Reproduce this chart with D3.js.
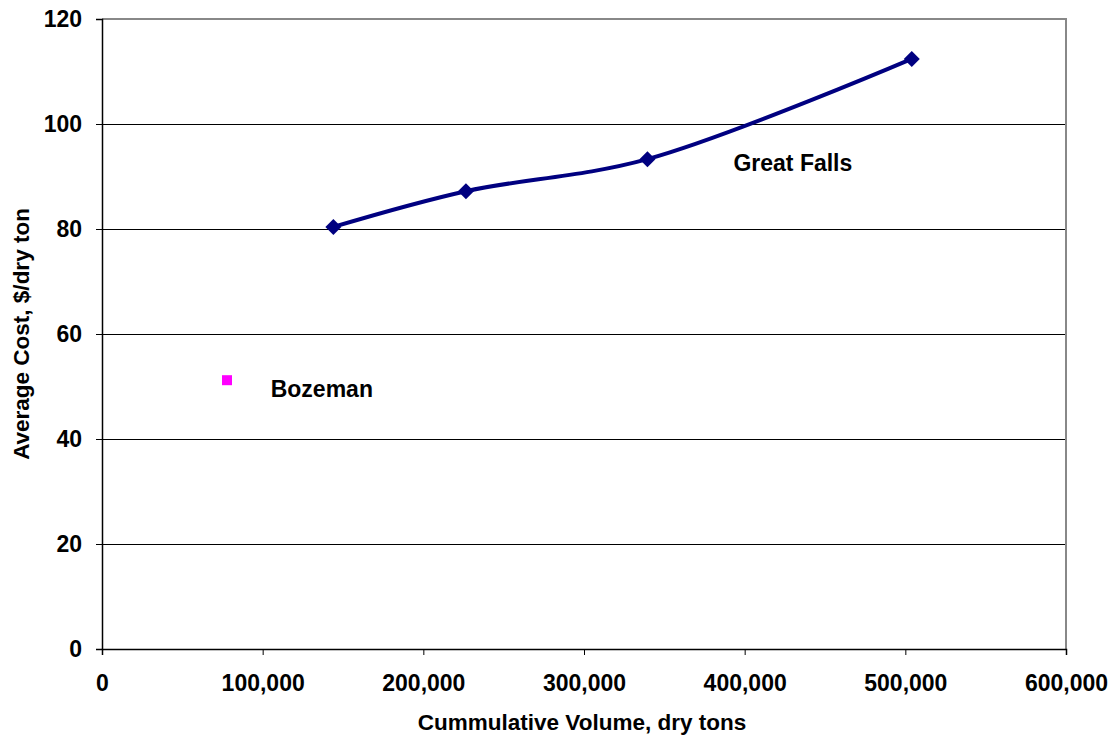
<!DOCTYPE html>
<html><head><meta charset="utf-8">
<script src="https://cdn.jsdelivr.net/npm/d3@7"></script>
<style>
body{margin:0;background:#fff;}
svg text{font-family:"Liberation Sans",Arial,sans-serif;font-weight:bold;fill:#000;}
</style></head>
<body>
<svg id="chart" width="1115" height="741"></svg>
<script>
const greatFallsX = [144000, 226500, 339500, 504000];
const greatFallsY = [80.4, 87.2, 93.3, 112.4];
const bozemanX = [77800];
const bozemanY = [51.2];
const xTicks = [0, 100000, 200000, 300000, 400000, 500000, 600000];
const yTicks = [0, 20, 40, 60, 80, 100, 120];
const xTitle = "Cummulative Volume, dry tons";
const yTitle = "Average Cost, $/dry ton";

const svg = d3.select("#chart");
const L = 102, R = 1066, T = 19, B = 649;
const x = d3.scaleLinear().domain([0, 600000]).range([L, R]);
const y = d3.scaleLinear().domain([0, 120]).range([B, T]);

// gridlines
svg.append("g").selectAll("line").data(yTicks.filter(d => d > 0 && d < 120)).join("line")
  .attr("x1", L).attr("x2", R).attr("y1", d => y(d)).attr("y2", d => y(d))
  .attr("stroke", "#000").attr("stroke-width", 1).attr("shape-rendering", "crispEdges");
// plot border top/right
svg.append("path").attr("d", `M${L},${y(120)}H${R}V${B}`).attr("fill", "none")
  .attr("stroke", "#888").attr("stroke-width", 1.5).attr("shape-rendering", "crispEdges");

const fmt = d3.format(",");
const xAxis = svg.append("g").attr("transform", `translate(0,${B})`)
  .call(d3.axisBottom(x).tickValues(xTicks).tickFormat(d => fmt(d)).tickSize(6).tickPadding(20));
const yAxis = svg.append("g").attr("transform", `translate(${L},0)`)
  .call(d3.axisLeft(y).tickValues(yTicks).tickSize(6).tickPadding(14));
[xAxis, yAxis].forEach(g => {
  g.selectAll("path").attr("stroke", "#000").attr("stroke-width", 1.5);
  g.selectAll("line").attr("stroke", "#000").attr("stroke-width", 1);
  g.selectAll("text").attr("font-size", 23).attr("font-family", "Liberation Sans, Arial, sans-serif").attr("font-weight", "bold").attr("fill", "#000");
});

const gf = greatFallsX.map((v, i) => [v, greatFallsY[i]]);
const line = d3.line().x(d => x(d[0])).y(d => y(d[1])).curve(d3.curveCatmullRom.alpha(0.5));
svg.append("path").datum(gf).attr("d", line).attr("fill", "none")
  .attr("stroke", "#000080").attr("stroke-width", 4);
svg.append("g").selectAll("path").data(gf).join("path")
  .attr("transform", d => `translate(${x(d[0])},${y(d[1])})`)
  .attr("d", "M0,-8L8,0L0,8L-8,0Z").attr("fill", "#000080");

const bz = bozemanX.map((v, i) => [v, bozemanY[i]]);
svg.append("g").selectAll("rect").data(bz).join("rect")
  .attr("x", d => x(d[0]) - 5).attr("y", d => y(d[1]) - 5).attr("width", 10).attr("height", 10)
  .attr("fill", "#ff00ff");

svg.append("text").attr("x", x(393000)).attr("y", y(91)).attr("font-size", 23).text("Great Falls");
svg.append("text").attr("x", x(105000)).attr("y", y(48)).attr("font-size", 23).text("Bozeman");

svg.append("text").attr("x", 582).attr("y", 730).attr("text-anchor", "middle")
  .attr("font-size", 22.5).text(xTitle);
svg.append("text").attr("transform", `translate(29,${(T + B) / 2}) rotate(-90)`)
  .attr("text-anchor", "middle").attr("font-size", 22.5).text(yTitle);
</script>
</body></html>
